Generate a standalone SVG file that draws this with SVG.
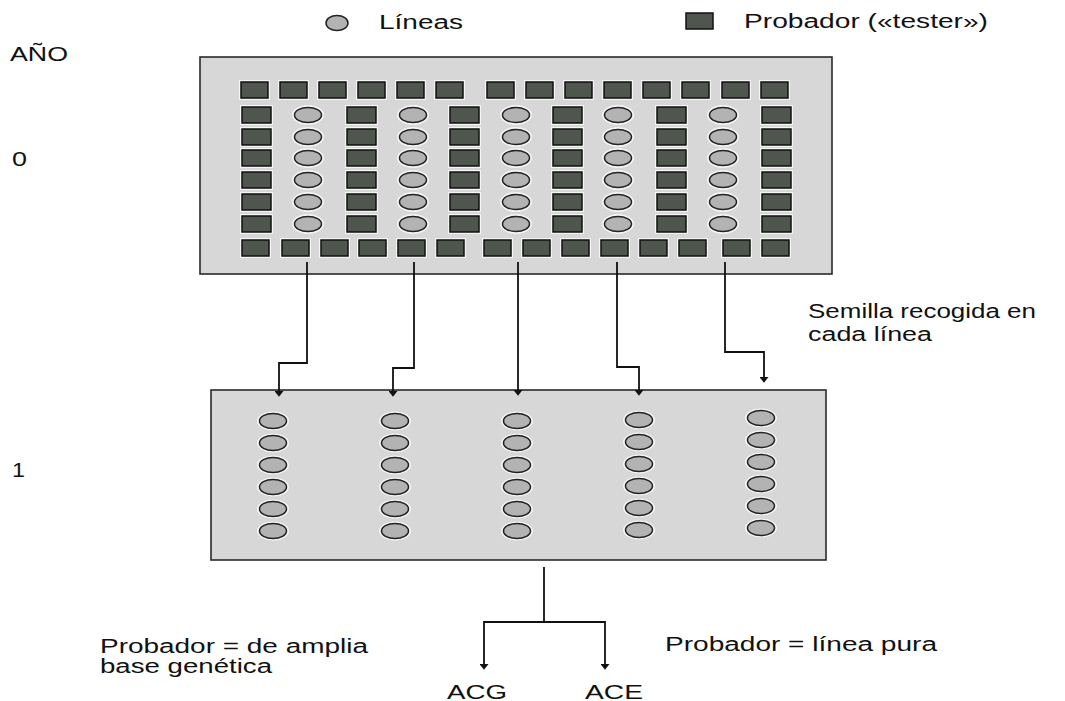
<svg xmlns="http://www.w3.org/2000/svg" xmlns:xlink="http://www.w3.org/1999/xlink" width="1065" height="701" viewBox="0 0 1065 701">
<style>
.t{font-family:"Liberation Sans",Arial,sans-serif;font-size:19.5px;fill:#111}
.box{fill:#d7d7d7;stroke:#2a2a2a;stroke-width:1.6}
.sq{fill:#4e564e;stroke:#111;stroke-width:1.5}
.ci{fill:#b3b3b3;stroke:#222;stroke-width:1.5}
.halo{fill:#f4f4f4}
.con{fill:none;stroke:#111;stroke-width:1.8}
</style>
<defs>
<g id="S"><rect class="halo" x="-2" y="-2" width="31" height="20"/><rect class="sq" x="0" y="0" width="27" height="16"/></g>
<g id="M"><rect class="halo" x="-2" y="-2" width="33" height="20"/><rect class="sq" x="0" y="0" width="29" height="16"/></g>
<g id="C"><ellipse class="halo" cx="0" cy="0" rx="16" ry="10"/><ellipse class="ci" cx="0" cy="0" rx="13.5" ry="7.5"/></g>
<g id="c"><ellipse class="halo" cx="0" cy="0" rx="16" ry="9.5"/><ellipse class="ci" cx="0" cy="0" rx="13.5" ry="7.5"/></g>
<marker id="ah" markerUnits="userSpaceOnUse" markerWidth="14" markerHeight="9" viewBox="0 0 9 14" refX="0" refY="7" orient="auto"><path d="M0,0 L9,7 L0,14 z" fill="#111"/></marker>
</defs>

<g id="legend">
<ellipse class="ci" cx="337" cy="23" rx="11" ry="7.5"/>
<text class="t" x="379" y="29" textLength="84" lengthAdjust="spacingAndGlyphs">Líneas</text>
<rect class="sq" x="686" y="13" width="27" height="16"/>
<text class="t" x="744" y="28" textLength="244" lengthAdjust="spacingAndGlyphs">Probador («tester»)</text>
</g>

<g id="years">
<text class="t" x="10" y="61" textLength="58" lengthAdjust="spacingAndGlyphs">AÑO</text>
<text class="t" x="12" y="166" textLength="15" lengthAdjust="spacingAndGlyphs">0</text>
<text class="t" x="12" y="477" textLength="13" lengthAdjust="spacingAndGlyphs">1</text>
</g>

<g id="year0">
<rect class="box" x="200" y="57" width="632" height="217"/>
<g id="toprow">
<use xlink:href="#S" x="241" y="82"/><use xlink:href="#S" x="280" y="82"/><use xlink:href="#S" x="319" y="82"/><use xlink:href="#S" x="358" y="82"/><use xlink:href="#S" x="397" y="82"/><use xlink:href="#S" x="436" y="82"/><use xlink:href="#S" x="487" y="82"/><use xlink:href="#S" x="526" y="82"/><use xlink:href="#S" x="565" y="82"/><use xlink:href="#S" x="604" y="82"/><use xlink:href="#S" x="643" y="82"/><use xlink:href="#S" x="682" y="82"/><use xlink:href="#S" x="722" y="82"/><use xlink:href="#S" x="761" y="82"/>
</g>
<g id="midrows">
<use xlink:href="#M" x="242" y="107"/><use xlink:href="#C" x="308" y="115"/><use xlink:href="#M" x="347" y="107"/><use xlink:href="#C" x="413" y="115"/><use xlink:href="#M" x="450" y="107"/><use xlink:href="#C" x="516" y="115"/><use xlink:href="#M" x="553" y="107"/><use xlink:href="#C" x="618" y="115"/><use xlink:href="#M" x="657" y="107"/><use xlink:href="#C" x="723" y="115"/><use xlink:href="#M" x="762" y="107"/>
<use xlink:href="#M" x="242" y="129"/><use xlink:href="#C" x="308" y="137"/><use xlink:href="#M" x="347" y="129"/><use xlink:href="#C" x="413" y="137"/><use xlink:href="#M" x="450" y="129"/><use xlink:href="#C" x="516" y="137"/><use xlink:href="#M" x="553" y="129"/><use xlink:href="#C" x="618" y="137"/><use xlink:href="#M" x="657" y="129"/><use xlink:href="#C" x="723" y="137"/><use xlink:href="#M" x="762" y="129"/>
<use xlink:href="#M" x="242" y="150"/><use xlink:href="#C" x="308" y="158"/><use xlink:href="#M" x="347" y="150"/><use xlink:href="#C" x="413" y="158"/><use xlink:href="#M" x="450" y="150"/><use xlink:href="#C" x="516" y="158"/><use xlink:href="#M" x="553" y="150"/><use xlink:href="#C" x="618" y="158"/><use xlink:href="#M" x="657" y="150"/><use xlink:href="#C" x="723" y="158"/><use xlink:href="#M" x="762" y="150"/>
<use xlink:href="#M" x="242" y="172"/><use xlink:href="#C" x="308" y="180"/><use xlink:href="#M" x="347" y="172"/><use xlink:href="#C" x="413" y="180"/><use xlink:href="#M" x="450" y="172"/><use xlink:href="#C" x="516" y="180"/><use xlink:href="#M" x="553" y="172"/><use xlink:href="#C" x="618" y="180"/><use xlink:href="#M" x="657" y="172"/><use xlink:href="#C" x="723" y="180"/><use xlink:href="#M" x="762" y="172"/>
<use xlink:href="#M" x="242" y="194"/><use xlink:href="#C" x="308" y="202"/><use xlink:href="#M" x="347" y="194"/><use xlink:href="#C" x="413" y="202"/><use xlink:href="#M" x="450" y="194"/><use xlink:href="#C" x="516" y="202"/><use xlink:href="#M" x="553" y="194"/><use xlink:href="#C" x="618" y="202"/><use xlink:href="#M" x="657" y="194"/><use xlink:href="#C" x="723" y="202"/><use xlink:href="#M" x="762" y="194"/>
<use xlink:href="#M" x="242" y="216"/><use xlink:href="#C" x="308" y="224"/><use xlink:href="#M" x="347" y="216"/><use xlink:href="#C" x="413" y="224"/><use xlink:href="#M" x="450" y="216"/><use xlink:href="#C" x="516" y="224"/><use xlink:href="#M" x="553" y="216"/><use xlink:href="#C" x="618" y="224"/><use xlink:href="#M" x="657" y="216"/><use xlink:href="#C" x="723" y="224"/><use xlink:href="#M" x="762" y="216"/>
</g>
<g id="bottomrow">
<use xlink:href="#S" x="242" y="240"/><use xlink:href="#S" x="282" y="240"/><use xlink:href="#S" x="321" y="240"/><use xlink:href="#S" x="359" y="240"/><use xlink:href="#S" x="398" y="240"/><use xlink:href="#S" x="437" y="240"/><use xlink:href="#S" x="484" y="240"/><use xlink:href="#S" x="523" y="240"/><use xlink:href="#S" x="562" y="240"/><use xlink:href="#S" x="601" y="240"/><use xlink:href="#S" x="640" y="240"/><use xlink:href="#S" x="679" y="240"/><use xlink:href="#S" x="723" y="240"/><use xlink:href="#S" x="762" y="240"/>
</g>
</g>

<g id="year1">
<rect class="box" x="211" y="390" width="615" height="170"/>
<use xlink:href="#c" x="273" y="421"/><use xlink:href="#c" x="273" y="443"/><use xlink:href="#c" x="273" y="465"/><use xlink:href="#c" x="273" y="487"/><use xlink:href="#c" x="273" y="509"/><use xlink:href="#c" x="273" y="531"/>
<use xlink:href="#c" x="395" y="421"/><use xlink:href="#c" x="395" y="443"/><use xlink:href="#c" x="395" y="465"/><use xlink:href="#c" x="395" y="487"/><use xlink:href="#c" x="395" y="509"/><use xlink:href="#c" x="395" y="531"/>
<use xlink:href="#c" x="517" y="421"/><use xlink:href="#c" x="517" y="443"/><use xlink:href="#c" x="517" y="465"/><use xlink:href="#c" x="517" y="487"/><use xlink:href="#c" x="517" y="509"/><use xlink:href="#c" x="517" y="531"/>
<use xlink:href="#c" x="639" y="420"/><use xlink:href="#c" x="639" y="442"/><use xlink:href="#c" x="639" y="464"/><use xlink:href="#c" x="639" y="486"/><use xlink:href="#c" x="639" y="508"/><use xlink:href="#c" x="639" y="530"/>
<use xlink:href="#c" x="761" y="418"/><use xlink:href="#c" x="761" y="440"/><use xlink:href="#c" x="761" y="462"/><use xlink:href="#c" x="761" y="484"/><use xlink:href="#c" x="761" y="506"/><use xlink:href="#c" x="761" y="528"/>
</g>

<g id="connectors">
<path class="con" marker-end="url(#ah)" d="M307 262 V363 H279 V391"/>
<path class="con" marker-end="url(#ah)" d="M414 262 V368 H393 V391"/>
<path class="con" marker-end="url(#ah)" d="M518 262 V390"/>
<path class="con" marker-end="url(#ah)" d="M617 262 V367 H639 V390"/>
<path class="con" marker-end="url(#ah)" d="M725 262 V352 H764 V377"/>
<path class="con" marker-end="url(#ah)" d="M544 567 V622 H484 V664"/>
<path class="con" marker-end="url(#ah)" d="M544 622 H605 V664"/>
</g>

<g id="labels">
<text class="t" x="808" y="318" textLength="228" lengthAdjust="spacingAndGlyphs">Semilla recogida en</text>
<text class="t" x="808" y="341" textLength="124" lengthAdjust="spacingAndGlyphs">cada línea</text>
<text class="t" x="100" y="653" textLength="268" lengthAdjust="spacingAndGlyphs">Probador = de amplia</text>
<text class="t" x="100" y="673" textLength="172" lengthAdjust="spacingAndGlyphs">base genética</text>
<text class="t" x="665" y="651" textLength="272" lengthAdjust="spacingAndGlyphs">Probador = línea pura</text>
<text class="t" x="447" y="699" textLength="60" lengthAdjust="spacingAndGlyphs">ACG</text>
<text class="t" x="585" y="699" textLength="58" lengthAdjust="spacingAndGlyphs">ACE</text>
</g>
</svg>
